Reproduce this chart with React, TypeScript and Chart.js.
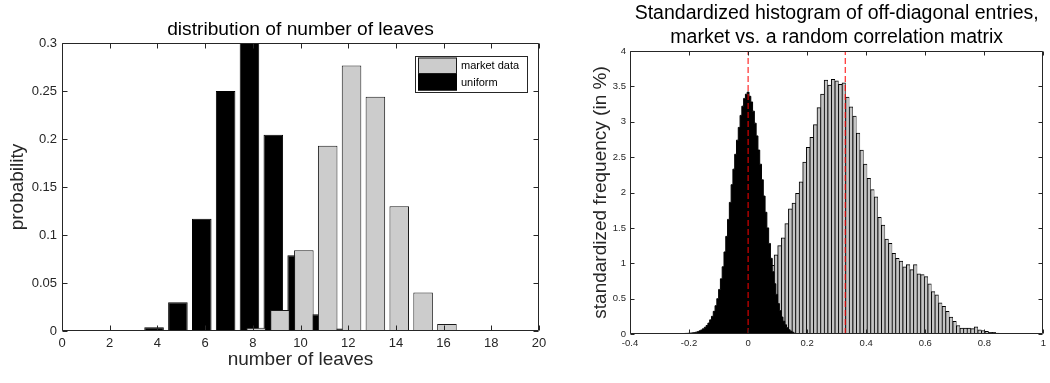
import React, { useEffect, useRef } from "react";
import { Chart, registerables } from "chart.js";

Chart.register(...registerables);

const FONT = "'Liberation Sans', Arial, Helvetica, sans-serif";
const AXIS_COLOR = "#262626";

// ---------- Left chart: distribution of number of leaves ----------
const leftTitle = ["distribution of number of leaves"];
const leftXLabel = "number of leaves";
const leftYLabel = "probability";
const leafCounts = [1, 2, 3, 4, 5, 6, 7, 8, 9, 10, 11, 12, 13, 14, 15, 16, 17, 18, 19, 20];
const marketLeafProb = [0, 0, 0, 0, 0, 0, 0, 0.0035, 0.022, 0.084, 0.193, 0.2765, 0.244, 0.13, 0.04, 0.0073, 0.0008, 0.0005, 0.0003, 0];
const uniformLeafProb = [0.0002, 0.0006, 0.0009, 0.004, 0.03, 0.117, 0.25, 0.302, 0.2045, 0.079, 0.0174, 0.0025, 0.0005, 0, 0, 0, 0, 0, 0, 0];
const leftSeriesNames = ["market data", "uniform"];

// ---------- Right chart: standardized histogram ----------
const rightTitle = ["Standardized histogram of off-diagonal entries,", "market vs. a random correlation matrix"];
const rightYLabel = "standardized frequency (in %)";
const marketBinStart = 0.082;
const marketBinWidth = 0.0121;
const marketFreq = [
  0.97, 1.12, 1.25, 1.36, 1.56, 1.77, 1.85, 1.99, 2.15, 2.43,
  2.64, 2.78, 2.96, 3.2, 3.39, 3.59, 3.52, 3.6, 3.58, 3.53,
  3.55, 3.35, 3.21, 3.08, 2.84, 2.6, 2.4, 2.2, 2.04, 1.94,
  1.65, 1.54, 1.34, 1.28, 1.14, 1.07, 1.03, 0.95, 0.98, 0.91,
  0.98, 0.85, 0.84, 0.81, 0.71, 0.6, 0.555, 0.44, 0.39, 0.32,
  0.24, 0.18, 0.12, 0.085, 0.085, 0.085, 0.075, 0.1, 0.06, 0.05,
  0.037, 0.023, 0.023, 0.014, 0.01, 0.01, 0.008, 0.006, 0.004, 0.003,
];
const randomBinStart = -0.2541;
const randomBinWidth = 0.00605;
const randomFreq = [
  0.003, 0.003, 0.004, 0.004, 0.005, 0.005, 0.006, 0.008, 0.009, 0.011,
  0.013, 0.016, 0.02, 0.026, 0.033, 0.045, 0.058, 0.075, 0.095, 0.12,
  0.155, 0.2, 0.25, 0.32, 0.4, 0.5, 0.63, 0.78, 0.95, 1.16,
  1.38, 1.62, 1.86, 2.11, 2.33, 2.54, 2.74, 2.92, 3.09, 3.22,
  3.33, 3.39, 3.42, 3.36, 3.28, 3.15, 2.98, 2.8, 2.6, 2.4,
  2.18, 1.95, 1.72, 1.5, 1.28, 1.07, 0.88, 0.71, 0.56, 0.43,
  0.33, 0.24, 0.18, 0.13, 0.09, 0.06, 0.04, 0.025, 0.015,
];
const meanLines = [0, 0.329];
const rightXRange = [-0.4, 1];
const rightYRange = [0, 4];

const binCenter = (start: number, width: number, j: number) => +(start + j * width).toFixed(5);
const fmtTick = (v: any) => String(parseFloat(Number(v).toFixed(6)));

function framePlugin(tickLen: number) {
  return {
    id: "frameBox",
    afterDraw(chart: any) {
      const { ctx, chartArea } = chart;
      const L = Math.round(chartArea.left) + 0.5;
      const R = Math.round(chartArea.right) - 0.5;
      const T = Math.round(chartArea.top) + 0.5;
      const B = Math.round(chartArea.bottom) - 0.5;
      ctx.save();
      ctx.strokeStyle = AXIS_COLOR;
      ctx.lineWidth = 1;
      ctx.beginPath();
      ctx.rect(L, T, R - L, B - T);
      const xs = chart.scales.x;
      const ys = chart.scales.y;
      xs.ticks.forEach((t: any) => {
        const p = Math.round(xs.getPixelForValue(t.value)) + 0.5;
        ctx.moveTo(p, B);
        ctx.lineTo(p, B - tickLen);
        ctx.moveTo(p, T);
        ctx.lineTo(p, T + tickLen);
      });
      ys.ticks.forEach((t: any) => {
        const p = Math.round(ys.getPixelForValue(t.value)) + 0.5;
        ctx.moveTo(L, p);
        ctx.lineTo(L + tickLen, p);
        ctx.moveTo(R, p);
        ctx.lineTo(R - tickLen, p);
      });
      ctx.stroke();
      ctx.restore();
    },
  };
}

function titlePlugin(lines: string[], baselines: number[], size: number) {
  return {
    id: "centeredTitle",
    afterDraw(chart: any) {
      const { ctx, chartArea } = chart;
      const cx = (chartArea.left + chartArea.right) / 2;
      ctx.save();
      ctx.fillStyle = "#000";
      ctx.font = `${size}px ${FONT}`;
      ctx.textAlign = "center";
      ctx.textBaseline = "alphabetic";
      lines.forEach((line, i) => ctx.fillText(line, cx, baselines[i]));
      ctx.restore();
    },
  };
}

const boxedLegendPlugin = {
  id: "boxedLegend",
  afterDraw(chart: any) {
    const { ctx, chartArea } = chart;
    const x0 = Math.round(chartArea.right - 124);
    const y0 = Math.round(chartArea.top + 13);
    const w = 112;
    const h = 36;
    const rowH = 16.5;
    ctx.save();
    ctx.fillStyle = "#fff";
    ctx.fillRect(x0, y0, w, h);
    ctx.strokeStyle = AXIS_COLOR;
    ctx.lineWidth = 1;
    ctx.strokeRect(x0 + 0.5, y0 + 0.5, w, h);
    chart.data.datasets.forEach((ds: any, i: number) => {
      const sy = y0 + 1.5 + i * rowH;
      ctx.fillStyle = ds.backgroundColor;
      ctx.fillRect(x0 + 3, sy, 39, rowH);
      ctx.strokeStyle = ds.borderColor;
      ctx.strokeRect(x0 + 3.5, sy + 0.5, 38, rowH - 1);
      ctx.fillStyle = "#000";
      ctx.font = `11px ${FONT}`;
      ctx.textAlign = "left";
      ctx.textBaseline = "middle";
      ctx.fillText(ds.label, x0 + 46, sy + rowH / 2 + 0.5);
    });
    ctx.restore();
  },
};

export default function App() {
  const leftRef = useRef<HTMLCanvasElement | null>(null);
  const rightRef = useRef<HTMLCanvasElement | null>(null);

  useEffect(() => {
    Chart.defaults.font.family = FONT;
    const barOffset = 0.14;
    const barWidthUnits = 0.82;
    const leftChart = new Chart(leftRef.current as HTMLCanvasElement, {
      type: "bar",
      data: {
        datasets: [
          {
            label: leftSeriesNames[0],
            data: leafCounts.map((c, i) => ({ x: c + barOffset, y: marketLeafProb[i] })),
            backgroundColor: "#cccccc",
            borderColor: "#1a1a1a",
            borderWidth: 1,
            grouped: false,
            categoryPercentage: 1,
            barPercentage: barWidthUnits / (2 * barOffset),
            order: 1,
          },
          {
            label: leftSeriesNames[1],
            data: leafCounts.map((c, i) => ({ x: c - barOffset, y: uniformLeafProb[i] })),
            backgroundColor: "#000000",
            borderColor: "#000000",
            borderWidth: 1,
            grouped: false,
            categoryPercentage: 1,
            barPercentage: barWidthUnits / (2 * barOffset),
            order: 2,
          },
        ] as any,
      },
      options: {
        responsive: false,
        animation: false,
        devicePixelRatio: 1,
        layout: { padding: { left: 0, right: 21, top: 43, bottom: 0 } },
        plugins: { legend: { display: false }, tooltip: { enabled: false }, title: { display: false } },
        scales: {
          x: {
            type: "linear",
            min: 0,
            max: 20,
            offset: false,
            afterFit: (s: any) => { s.height = 52; },
            ticks: { stepSize: 2, autoSkip: false, maxRotation: 0, padding: 5, color: AXIS_COLOR, font: { family: FONT, size: 13 }, callback: fmtTick },
            grid: { display: false, drawTicks: false },
            border: { display: false },
            title: { display: true, text: leftXLabel, color: AXIS_COLOR, font: { family: FONT, size: 19 }, padding: { top: 0, bottom: 12 } },
          },
          y: {
            type: "linear",
            min: 0,
            max: 0.3,
            afterFit: (s: any) => { s.width = 62; },
            ticks: { stepSize: 0.05, autoSkip: false, padding: 5, color: AXIS_COLOR, font: { family: FONT, size: 13 }, callback: fmtTick },
            grid: { display: false, drawTicks: false },
            border: { display: false },
            title: { display: true, text: leftYLabel, color: AXIS_COLOR, font: { family: FONT, size: 19 }, padding: { top: 6, bottom: 0 } },
          },
        },
      } as any,
      plugins: [framePlugin(5), titlePlugin(leftTitle, [35], 19.2), boxedLegendPlugin],
    });

    const rightChart = new Chart(rightRef.current as HTMLCanvasElement, {
      type: "bar",
      data: {
        datasets: [
          ...meanLines.map((m) => ({
            type: "line",
            label: "mean",
            data: [{ x: m, y: rightYRange[0] }, { x: m, y: rightYRange[1] }],
            borderColor: "#ff0000",
            borderWidth: 1,
            borderDash: [6, 3],
            pointRadius: 0,
            fill: false,
            order: 0,
          })),
          {
            type: "line",
            label: "random",
            data: randomFreq.map((v, j) => ({ x: binCenter(randomBinStart, randomBinWidth, j), y: v })),
            stepped: "middle",
            fill: "origin",
            backgroundColor: "#000000",
            borderColor: "#000000",
            borderWidth: 1,
            pointRadius: 0,
            order: 1,
          },
          {
            type: "bar",
            label: "market",
            data: marketFreq.map((v, j) => ({ x: binCenter(marketBinStart, marketBinWidth, j), y: v })),
            backgroundColor: "#c4c4c4",
            borderColor: "#000000",
            borderWidth: { left: 1, right: 0.5, top: 1, bottom: 0 },
            borderSkipped: false,
            grouped: false,
            categoryPercentage: 1,
            barPercentage: 1,
            order: 2,
          },
        ] as any,
      },
      options: {
        responsive: false,
        animation: false,
        devicePixelRatio: 1,
        layout: { padding: { left: 0, right: 2, top: 51, bottom: 0 } },
        plugins: { legend: { display: false }, tooltip: { enabled: false }, title: { display: false } },
        scales: {
          x: {
            type: "linear",
            min: rightXRange[0],
            max: rightXRange[1],
            offset: false,
            afterFit: (s: any) => { s.height = 49; },
            ticks: { stepSize: 0.2, autoSkip: false, maxRotation: 0, padding: 4, color: AXIS_COLOR, font: { family: FONT, size: 9.5 }, callback: fmtTick },
            grid: { display: false, drawTicks: false },
            border: { display: false },
          },
          y: {
            type: "linear",
            min: rightYRange[0],
            max: rightYRange[1],
            afterFit: (s: any) => { s.width = 70; },
            ticks: { stepSize: 0.5, autoSkip: false, padding: 4, color: AXIS_COLOR, font: { family: FONT, size: 9.5 }, callback: fmtTick },
            grid: { display: false, drawTicks: false },
            border: { display: false },
            title: { display: true, text: rightYLabel, color: AXIS_COLOR, font: { family: FONT, size: 19 }, padding: { top: 29, bottom: 0 } },
          },
        },
      } as any,
      plugins: [framePlugin(4), titlePlugin(rightTitle, [18.5, 42.5], 19.5)],
    });

    return () => {
      leftChart.destroy();
      rightChart.destroy();
    };
  }, []);

  return (
    <div style={{ position: "fixed", left: 0, top: 0, width: 1050, height: 383, background: "#fff", overflow: "hidden" }}>
      <canvas ref={leftRef} width={560} height={383} style={{ position: "absolute", left: 0, top: 0 }} />
      <canvas ref={rightRef} width={490} height={383} style={{ position: "absolute", left: 560, top: 0 }} />
    </div>
  );
}
